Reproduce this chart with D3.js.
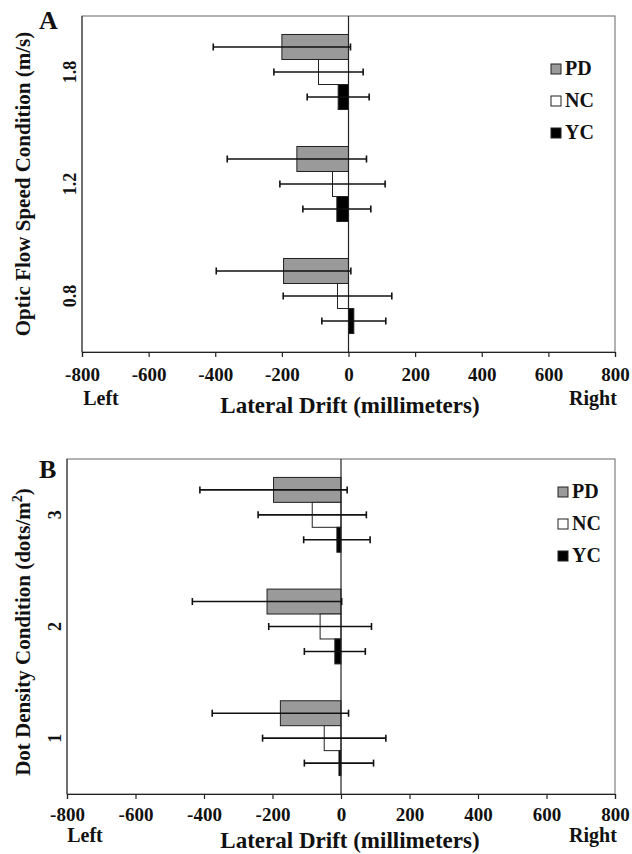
<!DOCTYPE html>
<html>
<head>
<meta charset="utf-8">
<script src="https://cdn.jsdelivr.net/npm/d3@7"></script>
<style>
  body { margin: 0; background: #fff; }
  svg text { font-family: "Liberation Serif", "Times New Roman", serif; font-weight: bold; fill: #111; }
</style>
</head>
<body>
<div id="chart"></div>
<script>
// groups and tick values
const groups = ['PD', 'NC', 'YC'];
const groupFill = ['#9a9a9a', '#ffffff', '#000000'];
const xTicks = [-800, -600, -400, -200, 0, 200, 400, 600, 800];

// panel A: optic flow speed (m/s), top to bottom
const speedCats = ['1.8', '1.2', '0.8'];
const speedPD = [-200, -155, -195];
const speedPDErr = [206, 209, 202];
const speedNC = [-90, -48, -33];
const speedNCErr = [134, 158, 163];
const speedYC = [-31, -35, 16];
const speedYCErr = [93, 102, 96];

// panel B: dot density (dots/m2), top to bottom
const densityCats = ['3', '2', '1'];
const densityPD = [-197, -216, -177];
const densityPDErr = [215, 218, 199];
const densityNC = [-84, -61, -49];
const densityNCErr = [158, 150, 180];
const densityYC = [-12, -18, -6];
const densityYCErr = [97, 89, 101];

const svg = d3.select('#chart').append('svg')
    .attr('width', 632)
    .attr('height', 854);

function drawPanel(cfg) {
    const x = d3.scaleLinear().domain([-800, 800]).range([cfg.left, cfg.right]);
    const y0 = d3.scaleBand().domain(cfg.cats).range([cfg.top, cfg.bottom])
        .paddingInner(0.33).paddingOuter(0.165);
    const y1 = d3.scaleBand().domain(groups).range([0, y0.bandwidth()]);

    // rows: one per category x group
    const rows = [];
    cfg.cats.forEach((c, i) => {
        groups.forEach((g, j) => {
            rows.push({cat: c, group: g, fill: groupFill[j], mean: cfg.means[j][i], err: cfg.errs[j][i]});
        });
    });

    const g = svg.append('g');

    // frame
    g.append('rect')
        .attr('x', cfg.left).attr('y', cfg.top)
        .attr('width', cfg.right - cfg.left).attr('height', cfg.bottom - cfg.top)
        .attr('fill', 'none').attr('stroke', '#666').attr('stroke-width', 1);

    // bars
    g.selectAll('.bar').data(rows).join('rect')
        .attr('class', 'bar')
        .attr('x', d => x(Math.min(0, d.mean)))
        .attr('y', d => y0(d.cat) + y1(d.group))
        .attr('width', d => Math.abs(x(d.mean) - x(0)))
        .attr('height', y1.bandwidth())
        .attr('fill', d => d.fill)
        .attr('stroke', '#222')
        .attr('stroke-width', 1);

    // zero line
    g.append('line')
        .attr('x1', x(0)).attr('x2', x(0))
        .attr('y1', cfg.top).attr('y2', cfg.bottom)
        .attr('stroke', '#222').attr('stroke-width', 1.2);

    // error bars
    const cy = d => y0(d.cat) + y1(d.group) + y1.bandwidth() / 2;
    const eb = g.selectAll('.err').data(rows).join('g').attr('class', 'err')
        .attr('stroke', '#111').attr('stroke-width', 1.6);
    eb.append('line')
        .attr('x1', d => x(d.mean - d.err)).attr('x2', d => x(d.mean + d.err))
        .attr('y1', cy).attr('y2', cy);
    eb.append('line')
        .attr('x1', d => x(d.mean - d.err)).attr('x2', d => x(d.mean - d.err))
        .attr('y1', d => cy(d) - 3.5).attr('y2', d => cy(d) + 3.5);
    eb.append('line')
        .attr('x1', d => x(d.mean + d.err)).attr('x2', d => x(d.mean + d.err))
        .attr('y1', d => cy(d) - 3.5).attr('y2', d => cy(d) + 3.5);

    // x axis
    const xAxis = g.append('g')
        .attr('transform', `translate(0,${cfg.bottom})`)
        .call(d3.axisBottom(x).tickValues(xTicks).tickSize(5).tickPadding(cfg.tickPad)
            .tickFormat(d => String(d)));
    xAxis.select('.domain').attr('stroke', '#222').attr('stroke-width', 1.2);
    xAxis.selectAll('.tick line').attr('stroke', '#222').attr('stroke-width', 1.2);
    xAxis.selectAll('.tick text')
        .style('font-family', '"Liberation Serif", serif')
        .style('font-weight', 'bold')
        .style('font-size', '19px')
        .attr('fill', '#111');

    // left axis line
    g.append('line')
        .attr('x1', cfg.left).attr('x2', cfg.left)
        .attr('y1', cfg.top).attr('y2', cfg.bottom)
        .attr('stroke', '#444').attr('stroke-width', 1.2);

    // category labels (rotated)
    g.selectAll('.cat').data(cfg.cats).join('text')
        .attr('class', 'cat')
        .attr('transform', d => `translate(${cfg.catX},${y0(d) + y0.bandwidth() / 2}) rotate(-90)`)
        .attr('text-anchor', 'middle')
        .style('font-size', '18px')
        .text(d => d);

    // y title
    const yt = g.append('text')
        .attr('transform', `translate(${cfg.titleX},${cfg.titleY}) rotate(-90)`)
        .attr('text-anchor', 'middle')
        .style('font-size', '21px');
    yt.append('tspan').text(cfg.yTitle);
    if (cfg.yTitleSup) {
        yt.append('tspan').attr('dy', -8).style('font-size', '14px').text(cfg.yTitleSup);
        yt.append('tspan').attr('dy', 8).text(')');
    }

    // x labels
    g.append('text').attr('x', 350).attr('y', cfg.xTitleY)
        .attr('text-anchor', 'middle').style('font-size', '23px')
        .text('Lateral Drift (millimeters)');
    g.append('text').attr('x', cfg.leftWordX).attr('y', cfg.sideY)
        .attr('text-anchor', 'middle').style('font-size', '20px').text('Left');
    g.append('text').attr('x', 593).attr('y', cfg.sideY)
        .attr('text-anchor', 'middle').style('font-size', '20px').text('Right');

    // panel letter
    g.append('text').attr('x', cfg.letterX).attr('y', cfg.letterY)
        .style('font-size', '26px').text(cfg.letter);

    // legend
    const leg = g.selectAll('.leg').data(groups).join('g').attr('class', 'leg')
        .attr('transform', (d, i) => `translate(${cfg.legX},${cfg.legY + i * 32})`);
    leg.append('rect')
        .attr('x', 0).attr('y', -11).attr('width', 10).attr('height', 10)
        .attr('fill', (d, i) => groupFill[i]).attr('stroke', '#222').attr('stroke-width', 1);
    leg.append('text').attr('x', 14).attr('y', 0)
        .style('font-size', '20px').text(d => d);
}

drawPanel({
    left: 82, right: 615, top: 16, bottom: 352,
    cats: speedCats,
    means: [speedPD, speedNC, speedYC],
    errs: [speedPDErr, speedNCErr, speedYCErr],
    tickPad: 11, catX: 76,
    yTitle: 'Optic Flow Speed Condition (m/s)', titleX: 30, titleY: 184,
    xTitleY: 413, sideY: 405, leftWordX: 101,
    letter: 'A', letterX: 39, letterY: 29,
    legX: 551, legY: 75
});

drawPanel({
    left: 67, right: 615, top: 459, bottom: 794,
    cats: densityCats,
    means: [densityPD, densityNC, densityYC],
    errs: [densityPDErr, densityNCErr, densityYCErr],
    tickPad: 9, catX: 61,
    yTitle: 'Dot Density Condition (dots/m', yTitleSup: '2', titleX: 30, titleY: 632,
    xTitleY: 848, sideY: 842, leftWordX: 85,
    letter: 'B', letterX: 39, letterY: 478,
    legX: 558, legY: 498
});
</script>
</body>
</html>
